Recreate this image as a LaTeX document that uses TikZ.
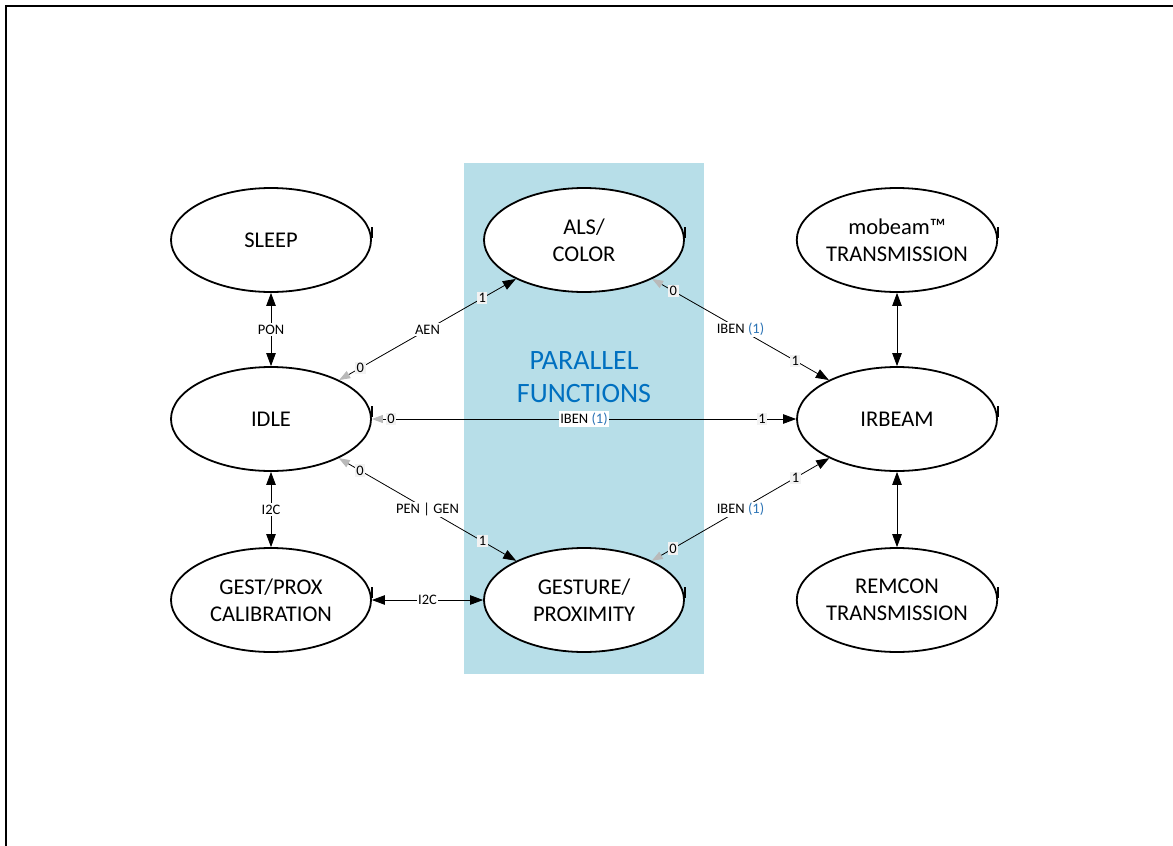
\documentclass[tikz,border=0pt]{standalone}
\usepackage{fontspec}
\setmainfont{Carlito}
\usetikzlibrary{arrows.meta,shapes.geometric}
\definecolor{panel}{RGB}{183,222,232}
\definecolor{pblue}{RGB}{0,112,192}
\definecolor{lblue}{RGB}{46,117,182}
\begin{document}
\begin{tikzpicture}[x=1pt,y=-1pt,
  state/.style={ellipse,draw,fill=white,line width=1.8pt,minimum width=200pt,minimum height=104pt,inner sep=0pt,align=center,font=\fontsize{22.5}{27}\selectfont},
  conn/.style={line width=0.8pt},
  dbl/.style={conn,arrows={Triangle[length=13pt,width=9.5pt]-Triangle[length=13pt,width=9.5pt]}},
  fromto/.style={conn,arrows={Triangle[length=11pt,width=8pt,color=gray!55]-Triangle[length=13pt,width=9.5pt]}},
  lbl/.style={font=\fontsize{14.5}{17}\selectfont,fill=white,inner sep=1.5pt},
  num/.style={lbl,fill=white!90!gray},
  tick/.style={line width=1.5pt}]
\useasboundingbox (0,0) rectangle (1173,846);
\draw[line width=2pt] (1173,6) -- (6,6) -- (6,846);
\fill[panel] (464,163) rectangle (704,674);
\node[text=pblue,font=\fontsize{28}{33}\selectfont,align=center] (par) at (584,377) {PARALLEL\\FUNCTIONS};
\node[state] (sleep) at (271,240) {SLEEP};
\node[state] (idle) at (271,419) {IDLE};
\node[state] (gpcal) at (271,600) {GEST/PROX\\CALIBRATION};
\node[state] (als) at (584,240) {ALS/\\COLOR};
\node[state] (gesture) at (584,600) {GESTURE/\\PROXIMITY};
\node[state] (mobeam) at (897,240) {mobeam™\\TRANSMISSION};
\node[state] (irbeam) at (897,419) {IRBEAM};
\node[state] (remcon) at (897,600) {REMCON\\TRANSMISSION};
\foreach \n in {sleep,idle,gpcal,als,gesture,mobeam,irbeam,remcon}
  \draw[tick] ([yshift=2pt]\n.east) -- ([yshift=13pt]\n.east);
\draw[dbl] (sleep) -- node[lbl]{PON} (idle);
\draw[dbl] (idle) -- node[lbl]{I2C} (gpcal);
\draw[dbl] (gpcal) -- node[lbl]{I2C} (gesture);
\draw[dbl] (mobeam) -- (irbeam);
\draw[dbl] (irbeam) -- (remcon);
\draw[fromto] (idle) -- node[num,pos=0.12]{0} node[lbl]{AEN} node[num,pos=0.81]{1} (als);
\draw[fromto] (idle) -- node[num,pos=0.045]{0} node[lbl]{IBEN \textcolor{lblue}{(1)}} node[num,pos=0.92]{1} (irbeam);
\draw[fromto] (idle) -- node[num,pos=0.12]{0} node[lbl]{PEN | GEN} node[num,pos=0.81]{1} (gesture);
\draw[fromto] (als) -- node[num,pos=0.12]{0} node[lbl]{IBEN \textcolor{lblue}{(1)}} node[num,pos=0.81]{1} (irbeam);
\draw[fromto] (gesture) -- node[num,pos=0.12]{0} node[lbl]{IBEN \textcolor{lblue}{(1)}} node[num,pos=0.81]{1} (irbeam);
\end{tikzpicture}
\end{document}
